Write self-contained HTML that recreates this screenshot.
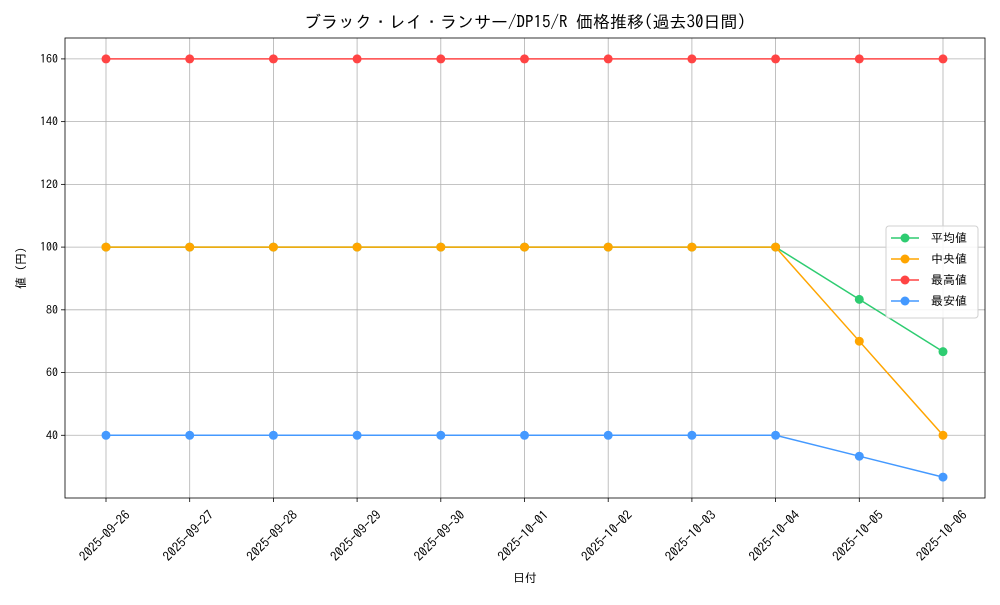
<!DOCTYPE html>
<html><head><meta charset="utf-8"><style>
body{margin:0;background:#fff;}
svg text{font-family:"IPAGothic","Noto Sans CJK JP",monospace;fill:#000;}
</style></head><body>
<svg id="c" width="1000" height="600" xmlns="http://www.w3.org/2000/svg"></svg>
<script>
const categories=["2025-09-26","2025-09-27","2025-09-28","2025-09-29","2025-09-30","2025-10-01","2025-10-02","2025-10-03","2025-10-04","2025-10-05","2025-10-06"];
const avgValues=[100,100,100,100,100,100,100,100,100,83.33,66.67];
const medianValues=[100,100,100,100,100,100,100,100,100,70,40];
const maxValues=[160,160,160,160,160,160,160,160,160,160,160];
const minValues=[40,40,40,40,40,40,40,40,40,33.33,26.67];
const yTicks=[40,60,80,100,120,140,160];
const seriesNames=["平均値","中央値","最高値","最安値"];
const seriesColors=["#2ecc71","#ffa500","#ff4444","#4499ff"];

const svg=document.getElementById('c');
const NS="http://www.w3.org/2000/svg";
const L=65,R=985,T=38,B=498;
const all=[].concat(avgValues,medianValues,maxValues,minValues);
const dmin=Math.min(...all),dmax=Math.max(...all),pad=(dmax-dmin)*0.05;
const ymin=dmin-pad,ymax=dmax+pad;
const x0=106,x1=943;
function xs(i){return x0+(x1-x0)*i/(categories.length-1);}
function ys(v){return B-(v-ymin)/(ymax-ymin)*(B-T);}
function mk(tag,attrs,parent){const e=document.createElementNS(NS,tag);for(const k in attrs)e.setAttribute(k,attrs[k]);(parent||svg).appendChild(e);return e;}

const grid=mk('g',{});


categories.forEach((c,i)=>{
  mk('line',{x1:xs(i),x2:xs(i),y1:T,y2:B,stroke:'#b0b0b0','stroke-width':0.8},grid);
  mk('line',{x1:xs(i),x2:xs(i),y1:B,y2:B+4,stroke:'#000','stroke-width':0.8},grid);
  const cx=xs(i)-1,cy=B+38;
  const t=mk('text',{x:cx,y:cy+4,'font-size':13,'text-anchor':'middle',transform:`rotate(-45 ${cx} ${cy})`});
  t.textContent=c;
  
  
});
yTicks.forEach(v=>{
  mk('line',{x1:L,x2:R,y1:ys(v),y2:ys(v),stroke:'#b0b0b0','stroke-width':0.8},grid);
  mk('line',{x1:L-4,x2:L,y1:ys(v),y2:ys(v),stroke:'#000','stroke-width':0.8},grid);
  const t=mk('text',{x:L-7,y:ys(v)+4,'font-size':12,'text-anchor':'end'});
  t.textContent=v;
  
  
});
const frame=mk('rect',{x:L,y:T,width:R-L,height:B-T,fill:'none',stroke:'#000','stroke-width':0.8});



[avgValues,medianValues,maxValues,minValues].forEach((vals,s)=>{
  const g=mk('g',{});
  
  
  mk('polyline',{points:vals.map((v,i)=>xs(i)+','+ys(v)).join(' '),fill:'none',stroke:seriesColors[s],'stroke-width':1.5},g);
  vals.forEach((v,i)=>{
    const p=mk('circle',{cx:xs(i),cy:ys(v),r:4.5,fill:seriesColors[s]},g);
    
    
  });
});

const title=mk('text',{x:(L+R)/2,y:28,'font-size':17,'text-anchor':'middle'});
title.textContent='ブラック・レイ・ランサー/DP15/R 価格推移(過去30日間)';


const xt=mk('text',{x:(L+R)/2,y:582,'font-size':12,'text-anchor':'middle'});
xt.textContent='日付';


const yt=mk('text',{x:25,y:(T+B)/2,'font-size':12,'text-anchor':'middle',transform:`rotate(-90 25 ${(T+B)/2})`});
yt.textContent='値 (円)';



const lg=mk('g',{});


mk('rect',{x:886,y:226,width:92,height:92,rx:3,fill:'#fff','fill-opacity':0.85,stroke:'#d0d0d0'},lg);
seriesNames.forEach((n,k)=>{
  const y=238+k*21;
  const e=mk('g',{},lg);
  
  
  mk('line',{x1:891,x2:919,y1:y,y2:y,stroke:seriesColors[k],'stroke-width':1.5},e);
  mk('circle',{cx:905,cy:y,r:4.5,fill:seriesColors[k]},e);
  const t=mk('text',{x:931,y:y+4,'font-size':12},e);
  t.textContent=n;
});
</script>
</body></html>
